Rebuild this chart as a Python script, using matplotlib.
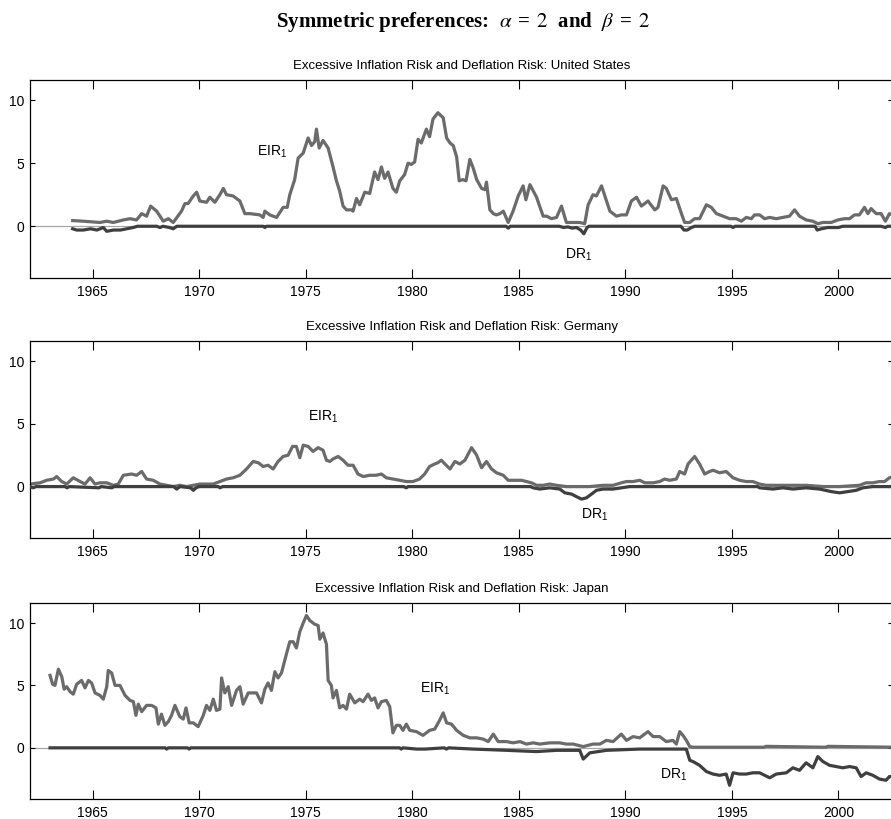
import numpy as np
import matplotlib
matplotlib.use("Agg")
import matplotlib.pyplot as plt

plt.rcParams["font.family"] = ["Liberation Sans", "DejaVu Sans"]
plt.rcParams["mathtext.default"] = "regular"

# Plot inputs
FIGSIZE = (8.91, 8.19)
DPI = 100
XLIM = (1962.06, 2002.56)
YLIM = (-4.1, 11.6)
XTICKS = [1965, 1970, 1975, 1980, 1985, 1990, 1995, 2000]
YTICKS = [0, 5, 10]
EIR_COLOR = "#6b6b6b"
DR_COLOR = "#3f3f3f"
ZERO_COLOR = "#a8a8a8"
SUPTITLE = (r"Symmetric preferences:  $\mathit{\alpha}\;=\;\mathrm{2}$  and  "
            r"$\mathit{\beta}\;=\;\mathrm{2}$")
TITLES = ["Excessive Inflation Risk and Deflation Risk: United States",
          "Excessive Inflation Risk and Deflation Risk: Germany",
          "Excessive Inflation Risk and Deflation Risk: Japan"]

# United States
us_eir_t = [1964.06, 1964.56, 1965.34, 1965.66, 1965.97, 1966.44, 1966.75, 1967.06,
            1967.30, 1967.53, 1967.72, 1968.00, 1968.16, 1968.31, 1968.55, 1968.78,
            1969.17, 1969.33, 1969.48, 1969.72, 1969.88, 1970.03, 1970.34, 1970.50,
            1970.73, 1970.97, 1971.13, 1971.28, 1971.59, 1971.91, 1972.14, 1972.38,
            1972.84, 1973.00, 1973.08, 1973.31, 1973.63, 1973.94, 1974.13, 1974.25,
            1974.48, 1974.64, 1974.88, 1975.11, 1975.27, 1975.42, 1975.50, 1975.63,
            1975.81, 1976.05, 1976.28, 1976.44, 1976.59, 1976.75, 1976.91, 1977.14,
            1977.22, 1977.38, 1977.53, 1977.77, 1978.00, 1978.23, 1978.39, 1978.55,
            1978.70, 1978.86, 1979.09, 1979.25, 1979.41, 1979.64, 1979.80, 1979.95,
            1980.11, 1980.27, 1980.42, 1980.66, 1980.81, 1980.97, 1981.20, 1981.45,
            1981.61, 1981.77, 1981.92, 1982.08, 1982.20, 1982.36, 1982.52, 1982.70,
            1982.86, 1983.02, 1983.25, 1983.41, 1983.48, 1983.64, 1983.80, 1983.95,
            1984.11, 1984.27, 1984.50, 1984.73, 1984.97, 1985.20, 1985.33, 1985.52,
            1985.83, 1986.14, 1986.30, 1986.53, 1986.77, 1987.00, 1987.23, 1987.55,
            1987.86, 1988.09, 1988.25, 1988.48, 1988.64, 1988.88, 1989.27, 1989.58,
            1989.81, 1990.05, 1990.28, 1990.52, 1990.75, 1991.06, 1991.38, 1991.53,
            1991.77, 1991.92, 1992.16, 1992.39, 1992.63, 1992.78, 1993.02, 1993.25,
            1993.48, 1993.80, 1994.03, 1994.27, 1994.58, 1994.89, 1995.20, 1995.44,
            1995.67, 1995.91, 1996.06, 1996.30, 1996.53, 1996.77, 1997.08, 1997.39,
            1997.70, 1997.94, 1998.17, 1998.48, 1998.80, 1999.03, 1999.27, 1999.66,
            1999.97, 2000.28, 2000.52, 2000.75, 2000.98, 2001.22, 2001.38, 2001.53,
            2001.77, 2002.00, 2002.20, 2002.39, 2002.56]
us_eir = [0.45, 0.4, 0.3, 0.4, 0.3, 0.5, 0.6, 0.5,
          1.0, 0.8, 1.6, 1.2, 0.8, 0.4, 0.6, 0.3,
          1.2, 1.8, 1.8, 2.4, 2.7, 2.0, 1.9, 2.3,
          1.9, 2.5, 3.0, 2.5, 2.4, 2.0, 1.0, 1.0,
          0.9, 0.7, 1.2, 0.9, 0.7, 1.5, 1.5, 2.5,
          3.7, 5.4, 5.8, 7.0, 6.4, 6.7, 7.7, 6.2,
          6.8, 6.2, 4.7, 3.6, 2.8, 1.6, 1.3, 1.3,
          1.2, 2.2, 1.7, 2.7, 2.6, 4.3, 3.7, 4.7,
          3.8, 4.3, 3.0, 2.7, 3.6, 4.1, 5.0, 4.9,
          5.1, 6.9, 6.6, 7.7, 7.1, 8.5, 9.0, 8.6,
          7.0, 6.6, 6.4, 5.5, 3.6, 3.7, 3.6, 5.3,
          4.6, 3.7, 3.0, 2.9, 3.5, 1.3, 1.0, 0.9,
          1.0, 1.2, 0.3, 1.2, 2.4, 3.2, 2.1, 3.3,
          2.3, 0.8, 0.8, 0.6, 0.7, 1.6, 0.3, 0.3,
          0.3, 0.2, 1.7, 2.5, 2.4, 3.2, 1.2, 0.8,
          0.9, 0.9, 2.0, 2.3, 1.6, 2.0, 1.3, 1.5,
          3.2, 3.0, 2.1, 2.2, 1.0, 0.3, 0.3, 0.6,
          0.6, 1.7, 1.5, 1.0, 0.8, 0.6, 0.6, 0.4,
          0.7, 0.6, 0.9, 0.9, 0.6, 0.7, 0.6, 0.7,
          0.8, 1.3, 0.8, 0.5, 0.4, 0.2, 0.3, 0.3,
          0.5, 0.6, 0.6, 0.9, 0.9, 1.5, 1.0, 1.4,
          1.0, 1.0, 0.4, 1.0, 0.9]
us_dr_t = [1964.06, 1964.25, 1964.56, 1964.90, 1965.20, 1965.50, 1965.66, 1965.97,
           1966.30, 1966.60, 1966.90, 1967.10, 1968.00, 1968.16, 1968.30, 1968.60,
           1968.78, 1968.95, 1973.00, 1973.08, 1973.15, 1984.40, 1984.50, 1984.60,
           1986.90, 1987.10, 1987.30, 1987.50, 1987.70, 1987.90, 1988.05, 1988.20,
           1988.30, 1992.60, 1992.75, 1992.90, 1993.10, 1993.25, 1994.95, 1995.05,
           1995.15, 1998.90, 1999.00, 1999.20, 1999.50, 2000.00, 2000.20, 2002.00,
           2002.20, 2002.30, 2002.56]
us_dr = [-0.2, -0.3, -0.3, -0.2, -0.3, -0.1, -0.4, -0.3,
         -0.3, -0.2, -0.1, 0.0, 0.0, -0.1, 0.0, -0.1,
         -0.2, 0.0, 0.0, -0.1, 0.0, 0.0, -0.15, 0.0,
         0.0, -0.1, -0.05, -0.15, -0.1, -0.3, -0.6, -0.1,
         0.0, 0.0, -0.3, -0.3, -0.1, 0.0, 0.0, -0.1,
         0.0, 0.0, -0.3, -0.2, -0.1, -0.1, 0.0, 0.0,
         -0.1, 0.0, 0.0]

# Germany
de_eir_t = [1962.06, 1962.53, 1962.84, 1963.16, 1963.31, 1963.55, 1963.78, 1964.09,
            1964.41, 1964.64, 1964.88, 1965.11, 1965.34, 1965.66, 1965.97, 1966.20,
            1966.44, 1966.83, 1967.06, 1967.30, 1967.53, 1967.84, 1968.16, 1968.47,
            1968.78, 1969.09, 1969.41, 1969.72, 1970.03, 1970.34, 1970.66, 1970.97,
            1971.28, 1971.59, 1971.91, 1972.22, 1972.53, 1972.77, 1973.00, 1973.23,
            1973.47, 1973.70, 1973.94, 1974.17, 1974.38, 1974.56, 1974.72, 1974.88,
            1975.11, 1975.34, 1975.58, 1975.81, 1975.97, 1976.13, 1976.28, 1976.52,
            1976.75, 1976.98, 1977.22, 1977.45, 1977.69, 1978.00, 1978.31, 1978.55,
            1978.78, 1979.09, 1979.41, 1979.72, 1980.03, 1980.34, 1980.58, 1980.81,
            1981.05, 1981.20, 1981.36, 1981.59, 1981.77, 1982.00, 1982.23, 1982.47,
            1982.78, 1983.02, 1983.25, 1983.48, 1983.72, 1983.95, 1984.27, 1984.50,
            1984.81, 1985.13, 1985.36, 1985.59, 1985.83, 1986.14, 1986.45, 1986.77,
            1987.23, 1988.33, 1988.95, 1989.42, 1989.81, 1990.05, 1990.36, 1990.67,
            1990.91, 1991.30, 1991.61, 1991.84, 1992.08, 1992.39, 1992.55, 1992.78,
            1992.94, 1993.25, 1993.48, 1993.72, 1993.95, 1994.11, 1994.42, 1994.73,
            1995.05, 1995.36, 1995.67, 1995.98, 1996.30, 1996.61, 1997.70, 1998.48,
            1999.27, 2000.05, 2000.98, 2001.30, 2001.61, 2001.92, 2002.16, 2002.39,
            2002.56]
de_eir = [0.2, 0.3, 0.5, 0.6, 0.8, 0.4, 0.2, 0.7,
          0.4, 0.2, 0.7, 0.2, 0.3, 0.3, 0.1, 0.2,
          0.9, 1.0, 0.9, 1.2, 0.6, 0.5, 0.2, 0.1,
          0.0, 0.1, 0.0, 0.1, 0.2, 0.2, 0.2, 0.4,
          0.6, 0.7, 0.9, 1.4, 2.0, 1.9, 1.6, 1.7,
          1.4, 2.0, 2.4, 2.5, 3.2, 3.2, 2.3, 3.3,
          3.2, 2.8, 3.1, 2.9, 2.1, 2.0, 2.2, 2.4,
          2.1, 1.7, 1.7, 1.0, 0.8, 0.9, 0.9, 1.0,
          0.7, 0.6, 0.5, 0.4, 0.4, 0.6, 1.0, 1.6,
          1.8, 1.9, 2.1, 1.7, 1.4, 2.0, 1.8, 2.1,
          3.1, 2.5, 1.5, 2.0, 1.4, 1.1, 0.9, 0.5,
          0.5, 0.5, 0.4, 0.3, 0.1, 0.1, 0.2, 0.1,
          0.0, 0.0, 0.1, 0.1, 0.3, 0.4, 0.4, 0.5,
          0.3, 0.3, 0.4, 0.6, 0.5, 0.6, 1.2, 1.0,
          1.8, 2.4, 1.8, 1.0, 1.2, 1.3, 1.1, 1.2,
          0.7, 0.5, 0.4, 0.4, 0.2, 0.1, 0.1, 0.1,
          0.0, 0.0, 0.1, 0.3, 0.3, 0.4, 0.4, 0.7,
          0.8]
de_dr_t = [1962.06, 1962.20, 1962.35, 1963.70, 1963.80, 1963.90, 1965.30, 1965.40,
           1965.90, 1966.00, 1968.80, 1968.94, 1969.10, 1969.60, 1969.72, 1969.85,
           1970.00, 1970.90, 1970.97, 1971.10, 1979.60, 1979.72, 1979.80, 1985.55,
           1985.67, 1985.98, 1986.45, 1986.92, 1987.16, 1987.47, 1987.70, 1987.94,
           1988.17, 1988.41, 1988.64, 1988.95, 1989.42, 1989.81, 1990.20, 1996.20,
           1996.30, 1996.92, 1997.39, 1997.86, 1998.48, 1999.11, 1999.66, 2000.05,
           2000.44, 2000.83, 2001.14, 2001.61, 2002.56]
de_dr = [0.0, -0.1, 0.0, 0.0, -0.1, 0.0, -0.1, 0.0,
         -0.1, 0.0, 0.0, -0.2, 0.0, -0.1, -0.3, -0.1,
         0.0, 0.0, -0.1, 0.0, 0.0, -0.1, 0.0, 0.0,
         -0.1, -0.2, -0.1, -0.2, -0.5, -0.6, -0.8, -1.0,
         -0.9, -0.6, -0.3, -0.2, -0.2, -0.1, 0.0, 0.0,
         -0.1, -0.2, -0.1, -0.2, -0.1, -0.2, -0.4, -0.5,
         -0.4, -0.3, -0.1, 0.0, 0.0]

# Japan
jp_eir_t = [1963.00, 1963.12, 1963.23, 1963.39, 1963.55, 1963.66, 1963.78, 1963.94,
            1964.09, 1964.25, 1964.48, 1964.64, 1964.80, 1964.95, 1965.11, 1965.34,
            1965.50, 1965.66, 1965.73, 1965.89, 1966.05, 1966.28, 1966.52, 1966.75,
            1966.91, 1967.03, 1967.14, 1967.30, 1967.53, 1967.77, 1967.97, 1968.08,
            1968.23, 1968.39, 1968.55, 1968.70, 1968.86, 1969.09, 1969.25, 1969.38,
            1969.53, 1969.72, 1969.95, 1970.19, 1970.34, 1970.50, 1970.66, 1970.81,
            1970.97, 1971.05, 1971.20, 1971.36, 1971.52, 1971.75, 1971.91, 1972.06,
            1972.30, 1972.69, 1972.92, 1973.08, 1973.23, 1973.39, 1973.55, 1973.70,
            1973.86, 1974.09, 1974.25, 1974.41, 1974.56, 1974.72, 1974.88, 1975.03,
            1975.19, 1975.42, 1975.58, 1975.66, 1975.81, 1975.97, 1976.05, 1976.20,
            1976.28, 1976.44, 1976.59, 1976.75, 1976.91, 1977.06, 1977.30, 1977.53,
            1977.69, 1977.92, 1978.08, 1978.23, 1978.39, 1978.55, 1978.78, 1978.94,
            1979.09, 1979.25, 1979.41, 1979.56, 1979.72, 1979.88, 1980.19, 1980.50,
            1980.81, 1981.05, 1981.28, 1981.45, 1981.61, 1981.84, 1982.08, 1982.39,
            1982.70, 1983.02, 1983.33, 1983.56, 1983.80, 1984.03, 1984.42, 1984.73,
            1985.05, 1985.36, 1985.67, 1985.98, 1986.45, 1986.92, 1987.23, 1987.55,
            1988.02, 1988.48, 1988.80, 1989.11, 1989.42, 1989.81, 1990.05, 1990.36,
            1990.67, 1991.06, 1991.30, 1991.61, 1991.92, 1992.23, 1992.39, 1992.55,
            1992.70, 1992.86, 1993.02, 1993.17, 1996.50, 1996.60, 1999.40, 1999.50,
            2002.56]
jp_eir = [5.8, 5.1, 5.0, 6.3, 5.7, 4.7, 4.9, 4.5,
          4.3, 5.1, 5.4, 4.8, 5.4, 5.2, 4.4, 4.2,
          3.9, 4.9, 6.2, 6.0, 5.0, 5.0, 4.2, 3.8,
          3.7, 2.6, 3.5, 2.9, 3.4, 3.4, 3.2, 1.9,
          2.7, 1.8, 2.1, 2.6, 3.4, 2.5, 2.3, 3.2,
          2.0, 2.0, 1.7, 2.6, 3.4, 3.0, 3.9, 3.0,
          3.1, 5.6, 4.4, 4.9, 3.4, 4.6, 4.9, 3.5,
          4.4, 4.4, 3.6, 4.7, 5.2, 4.6, 6.1, 5.6,
          6.0, 7.5, 8.5, 8.5, 8.0, 9.3, 10.0, 10.6,
          10.2, 9.9, 9.8, 8.7, 9.2, 8.3, 5.4, 5.0,
          4.0, 4.6, 3.2, 3.4, 3.1, 4.3, 3.6, 3.9,
          3.7, 4.3, 3.8, 4.0, 3.2, 3.7, 3.8, 3.3,
          1.2, 1.8, 1.8, 1.4, 1.9, 1.4, 1.3, 1.0,
          1.4, 1.5, 2.2, 2.8, 2.0, 1.9, 1.4, 1.0,
          0.8, 0.8, 0.7, 0.5, 1.1, 0.5, 0.5, 0.4,
          0.5, 0.3, 0.4, 0.3, 0.4, 0.4, 0.3, 0.3,
          0.1, 0.3, 0.3, 0.6, 0.5, 1.1, 0.6, 0.9,
          0.8, 1.3, 0.9, 0.9, 0.5, 0.6, 0.3, 1.3,
          1.0, 0.6, 0.1, 0.05, 0.05, 0.12, 0.05, 0.12,
          0.05]
jp_dr_t = [1963.00, 1968.40, 1968.47, 1968.55, 1969.45, 1969.53, 1969.60, 1979.40,
           1979.48, 1979.56, 1980.20, 1980.60, 1981.50, 1981.60, 1981.70, 1982.86,
           1984.42, 1985.83, 1986.77, 1987.86, 1988.02, 1988.33, 1989.11, 1990.67,
           1992.23, 1992.86, 1993.02, 1993.17, 1993.48, 1993.80, 1994.11, 1994.42,
           1994.73, 1994.89, 1995.05, 1995.36, 1995.67, 1995.98, 1996.30, 1996.77,
           1997.08, 1997.55, 1997.86, 1998.17, 1998.48, 1998.80, 1999.03, 1999.27,
           1999.58, 1999.89, 2000.20, 2000.52, 2000.83, 2001.06, 2001.30, 2001.61,
           2001.92, 2002.23, 2002.39, 2002.56]
jp_dr = [0.0, 0.0, -0.1, 0.0, 0.0, -0.1, 0.0, 0.0,
         -0.1, 0.0, -0.1, -0.1, 0.0, -0.1, 0.0, -0.1,
         -0.2, -0.3, -0.2, -0.2, -0.9, -0.4, -0.2, -0.1,
         -0.1, -0.1, -1.0, -1.1, -1.4, -1.9, -2.1, -2.2,
         -2.1, -3.0, -2.0, -2.1, -2.1, -2.0, -2.0, -2.4,
         -2.1, -2.0, -1.6, -1.8, -1.2, -1.6, -0.7, -1.1,
         -1.4, -1.5, -1.6, -1.5, -1.6, -2.3, -2.0, -2.2,
         -2.5, -2.6, -2.3, -2.3]

# label anchors (year, value) for EIR_1 and DR_1
EIR_LABEL_POS = [(1972.7, 5.9), (1975.1, 5.6), (1980.35, 4.7)]
DR_LABEL_POS = [(1987.15, -2.3), (1987.9, -2.25), (1991.6, -2.2)]

PANELS = [(us_eir_t, us_eir, us_dr_t, us_dr),
          (de_eir_t, de_eir, de_dr_t, de_dr),
          (jp_eir_t, jp_eir, jp_dr_t, jp_dr)]

# axes rectangles in figure fraction (left, bottom, width, height)
AX_RECTS = [(0.0337, 0.6606, 0.9686, 0.2418),
            (0.0337, 0.3431, 0.9686, 0.2405),
            (0.0337, 0.0244, 0.9686, 0.2393)]


def panel_plot(ax, panel, title, eir_pos, dr_pos):
    eir_t, eir, dr_t, dr = panel
    ax.axhline(0, color=ZERO_COLOR, lw=0.9, zorder=1)
    ax.plot(eir_t, eir, color=EIR_COLOR, lw=2.3, zorder=2)
    ax.plot(dr_t, dr, color=DR_COLOR, lw=2.3, zorder=3)
    ax.set_xlim(*XLIM)
    ax.set_ylim(*YLIM)
    ax.set_xticks(XTICKS)
    ax.set_yticks(YTICKS)
    ax.tick_params(axis="x", direction="in", length=6.5, width=0.8,
                   top=True, labelsize=10, pad=5)
    ax.tick_params(axis="y", direction="in", length=3.5, width=0.8,
                   right=True, labelsize=10, pad=4)
    for s in ax.spines.values():
        s.set_linewidth(0.9)
    ax.set_title(title, fontsize=9.5, pad=8)
    ax.text(eir_pos[0], eir_pos[1], "EIR$_1$", fontsize=10,
            ha="left", va="center")
    ax.text(dr_pos[0], dr_pos[1], "DR$_1$", fontsize=10,
            ha="left", va="center")


def main():
    fig = plt.figure(figsize=FIGSIZE, dpi=DPI)
    fig.text(0.52, 0.973, SUPTITLE, ha="center", va="center",
             fontsize=15, fontweight="bold", family="Liberation Serif",
             math_fontfamily="stix")
    for i in range(3):
        ax = fig.add_axes(AX_RECTS[i])
        panel_plot(ax, PANELS[i], TITLES[i], EIR_LABEL_POS[i], DR_LABEL_POS[i])
    fig.savefig("out.png", dpi=DPI)

    return None


if __name__ == "__main__":
    main()
